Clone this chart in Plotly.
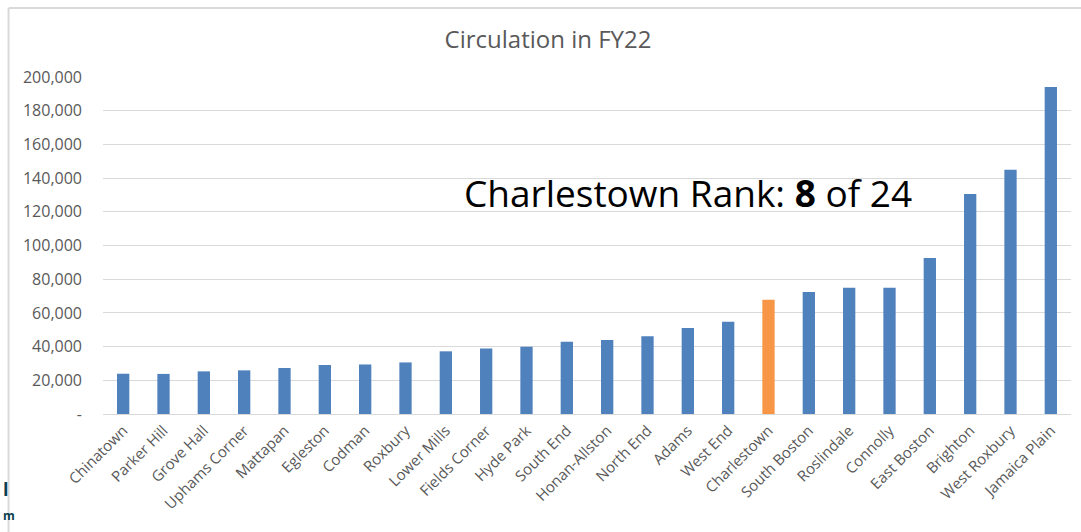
import plotly.graph_objects as go

branches = ["Chinatown", "Parker Hill", "Grove Hall", "Uphams Corner", "Mattapan", "Egleston",
            "Codman", "Roxbury", "Lower Mills", "Fields Corner", "Hyde Park", "South End",
            "Honan-Allston", "North End", "Adams", "West End", "Charlestown", "South Boston",
            "Roslindale", "Connolly", "East Boston", "Brighton", "West Roxbury", "Jamaica Plain"]
circulation = [23900, 23800, 25300, 25900, 27300, 29100, 29400, 30600, 37200, 38800, 39900, 42900,
               43900, 46100, 51000, 54800, 67800, 72400, 75000, 75000, 92600, 130600, 145000, 194100]
highlight = "Charlestown"
tick_vals = [0, 20000, 40000, 60000, 80000, 100000, 120000, 140000, 160000, 180000, 200000]
tick_text = ["-", "20,000", "40,000", "60,000", "80,000", "100,000", "120,000", "140,000",
             "160,000", "180,000", "200,000"]

W, H = 1081, 532
L, R, T, B = 102.5, 1071, 77, 414

colors = ["#F79646" if b == highlight else "#4F81BD" for b in branches]

fig = go.Figure(go.Bar(x=branches, y=circulation, marker=dict(color=colors, line=dict(width=0))))

fig.update_layout(
    width=W, height=H, autosize=False,
    margin=dict(l=L, r=W - R, t=T, b=H - B, pad=0),
    paper_bgcolor="white", plot_bgcolor="white",
    bargap=0.695, showlegend=False,
    font=dict(family="Open Sans", color="#595959"),
    title=dict(text="Circulation in FY22", x=548 / W, xanchor="center", xref="container",
               y=1 - 40 / H, yanchor="middle", yref="container",
               font=dict(family="Open Sans", size=24, color="#595959")),
    xaxis=dict(tickangle=-45, tickfont=dict(size=15, color="#595959"), showgrid=False,
               showline=False, ticks="", ticklabelstandoff=4),
    yaxis=dict(range=[0, 200000], tickvals=tick_vals, ticktext=tick_text,
               tickfont=dict(size=16, color="#595959"), showgrid=True, gridcolor="#d9d9d9",
               gridwidth=1, zeroline=True, zerolinecolor="#d9d9d9", zerolinewidth=1,
               showline=False, ticks="", ticklabelstandoff=20),
)

fig.add_annotation(text="Charlestown Rank: <b>8</b> of 24", xref="paper", yref="y",
                   x=(462 - L) / (R - L), y=131500, xanchor="left", yanchor="middle",
                   showarrow=False, font=dict(family="Open Sans", size=37, color="#000000"))

# frame lines of the chart area
fig.add_shape(type="line", xref="paper", yref="paper", x0=(8 - L) / (R - L), x1=(W + 5 - L) / (R - L),
              y0=(B - 8) / (B - T), y1=(B - 8) / (B - T), line=dict(color="#d9d9d9", width=2))
fig.add_shape(type="line", xref="paper", yref="paper", x0=(8 - L) / (R - L), x1=(8 - L) / (R - L),
              y0=(B - 8) / (B - T), y1=(B - H - 5) / (B - T), line=dict(color="#d9d9d9", width=2))

# slide text peeking out at bottom-left
fig.add_annotation(text="<b>l</b>", xref="paper", yref="paper", x=(0 - L) / (R - L),
                   y=(B - 489) / (B - T), xanchor="left", yanchor="middle", showarrow=False,
                   font=dict(family="Open Sans", size=18, color="#0B3D50"))
fig.add_annotation(text="<b>m</b>", xref="paper", yref="paper", x=(0 - L) / (R - L),
                   y=(B - 515) / (B - T), xanchor="left", yanchor="middle", showarrow=False,
                   font=dict(family="Open Sans", size=12, color="#0B3D50"))

fig.write_html("out.html", config={"displayModeBar": False},
               post_script="document.body.style.margin='0';")
